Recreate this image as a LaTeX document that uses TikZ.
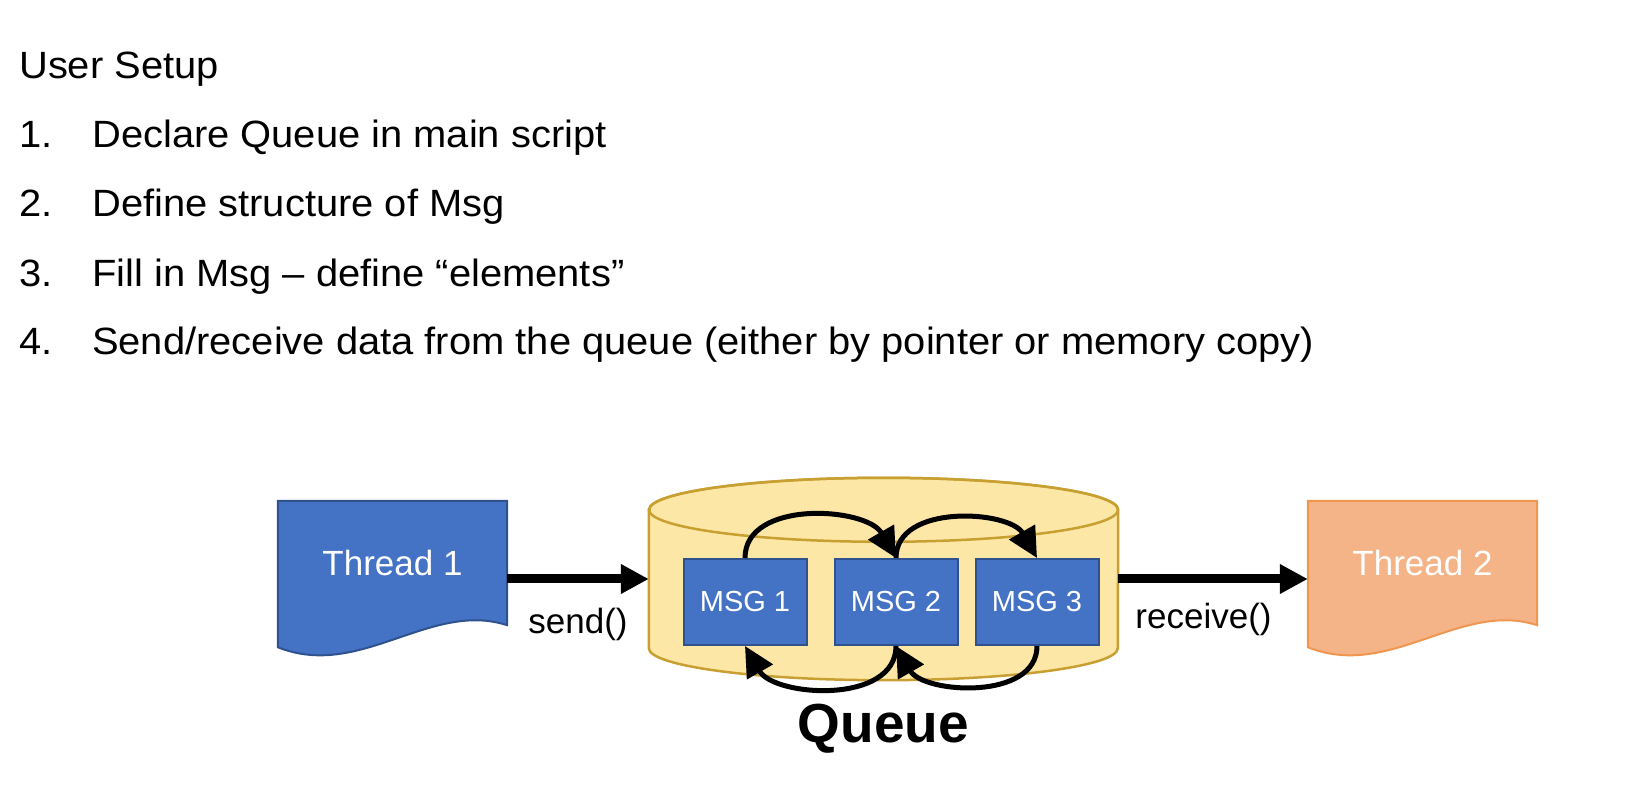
\documentclass[tikz,border=0pt]{standalone}
\usepackage{fontspec}
\setmainfont{Liberation Sans}
\newfontfamily\listfont[FakeStretch=1.05]{Liberation Sans}
\usepackage{xcolor}
\usetikzlibrary{arrows.meta,positioning,calc,backgrounds}
\definecolor{tblue}{RGB}{68,114,196}
\definecolor{tblueline}{RGB}{47,82,143}
\definecolor{torange}{RGB}{244,180,136}
\definecolor{torangeline}{RGB}{241,150,80}
\definecolor{qfill}{RGB}{252,231,166}
\definecolor{qline}{RGB}{200,160,50}

\begin{document}
\begin{tikzpicture}[x=1pt, y=1pt,
  listtext/.style={anchor=base west, inner sep=0pt, font=\listfont\fontsize{38}{46}\selectfont},
  docbox/.style={minimum width=229pt, minimum height=124pt, inner sep=0pt, text=white, font=\fontsize{35}{42}\selectfont},
  msgbox/.style={fill=tblue, draw=tblueline, line width=2pt, minimum width=123pt, minimum height=86pt, inner sep=0pt, text=white, font=\fontsize{29}{34}\selectfont},
  calllabel/.style={inner sep=0pt, font=\fontsize{35}{42}\selectfont},
  bigarrow/.style={line width=9pt, -{Triangle[length=28pt,width=28pt]}},
  looparrow/.style={line width=5pt, -{Triangle[length=30pt,width=29pt]}}
]
\useasboundingbox (0,0) rectangle (1634,788);

% Setup steps
\node[listtext] (title) at (19,709) {User Setup};
\node[listtext] (n1) at (19,640) {1.};
\node[listtext] (s1) at (92,640) {Declare Queue in main script};
\node[listtext] (n2) at (19,571) {2.};
\node[listtext] (s2) at (92,571) {Define structure of Msg};
\node[listtext] (n3) at (19,501) {3.};
\node[listtext] (s3) at (92,501) {Fill in Msg – define “elements”};
\node[listtext] (n4) at (19,433) {4.};
\node[listtext] (s4) at (92,433) {Send/receive data from the queue (either by pointer or memory copy)};

% Threads and queue body
\node[docbox] (t1) at (392.5,225) {Thread 1};
\node[docbox] (t2) at (1422.5,225) {Thread 2};
\node[minimum width=469pt, minimum height=202pt, inner sep=0pt] (queue) at (883.5,209) {};

% Messages inside the queue
\node[msgbox] (msg1) at (745,186) {MSG 1};
\node[msgbox, right=26pt of msg1] (msg2) {MSG 2};
\node[msgbox, right=16pt of msg2] (msg3) {MSG 3};

% Shapes drawn behind the nodes
\begin{scope}[on background layer]
  % document shapes
  \filldraw[fill=tblue, draw=tblueline, line width=2pt] (t1.north west) -- (t1.north east) -- (t1.south east)
    .. controls +(-77,25) and +(82,-33) .. ($(t1.south west)+(0,-22)$) -- cycle;
  \filldraw[fill=torange, draw=torangeline, line width=2pt] (t2.north west) -- (t2.north east) -- (t2.south east)
    .. controls +(-77,25) and +(82,-33) .. ($(t2.south west)+(0,-22)$) -- cycle;
  % cylinder
  \coordinate (qtl) at ($(queue.north west)+(0,-32)$);
  \coordinate (qbr) at ($(queue.south east)+(0,32)$);
  \filldraw[fill=qfill, draw=qline, line width=2.5pt] (qtl) -- (qtl |- qbr)
    arc[start angle=180, end angle=360, x radius=234.5, y radius=32] -- (qbr |- qtl)
    arc[start angle=0, end angle=180, x radius=234.5, y radius=32] -- cycle;
  \draw[qline, line width=2.5pt] ($(qtl)!0.5!(qbr |- qtl)$) ellipse[x radius=234.5, y radius=32];
\end{scope}

% send / receive
\draw[bigarrow] (queue.west -| t1.east) -- node[calllabel, below=25pt] (send) {send()} (queue.west);
\draw[bigarrow] (queue.east) -- node[calllabel, pos=0.45, below=20pt] (recv) {receive()} (queue.east -| t2.west);

% message order
\draw[looparrow] (msg1.north) to[out=90, in=120] (msg2.north);
\draw[looparrow] (msg2.north) to[out=90, in=120] (msg3.north);
\draw[looparrow] (msg3.south) to[out=-90, in=-60] (msg2.south);
\draw[looparrow] (msg2.south) to[out=-90, in=-60] (msg1.south);

% Label
\node[inner sep=0pt, font=\bfseries\fontsize{55}{66}\selectfont] (qname) at ($(queue.south)+(0,-49)$) {Queue};

\end{tikzpicture}
\end{document}
